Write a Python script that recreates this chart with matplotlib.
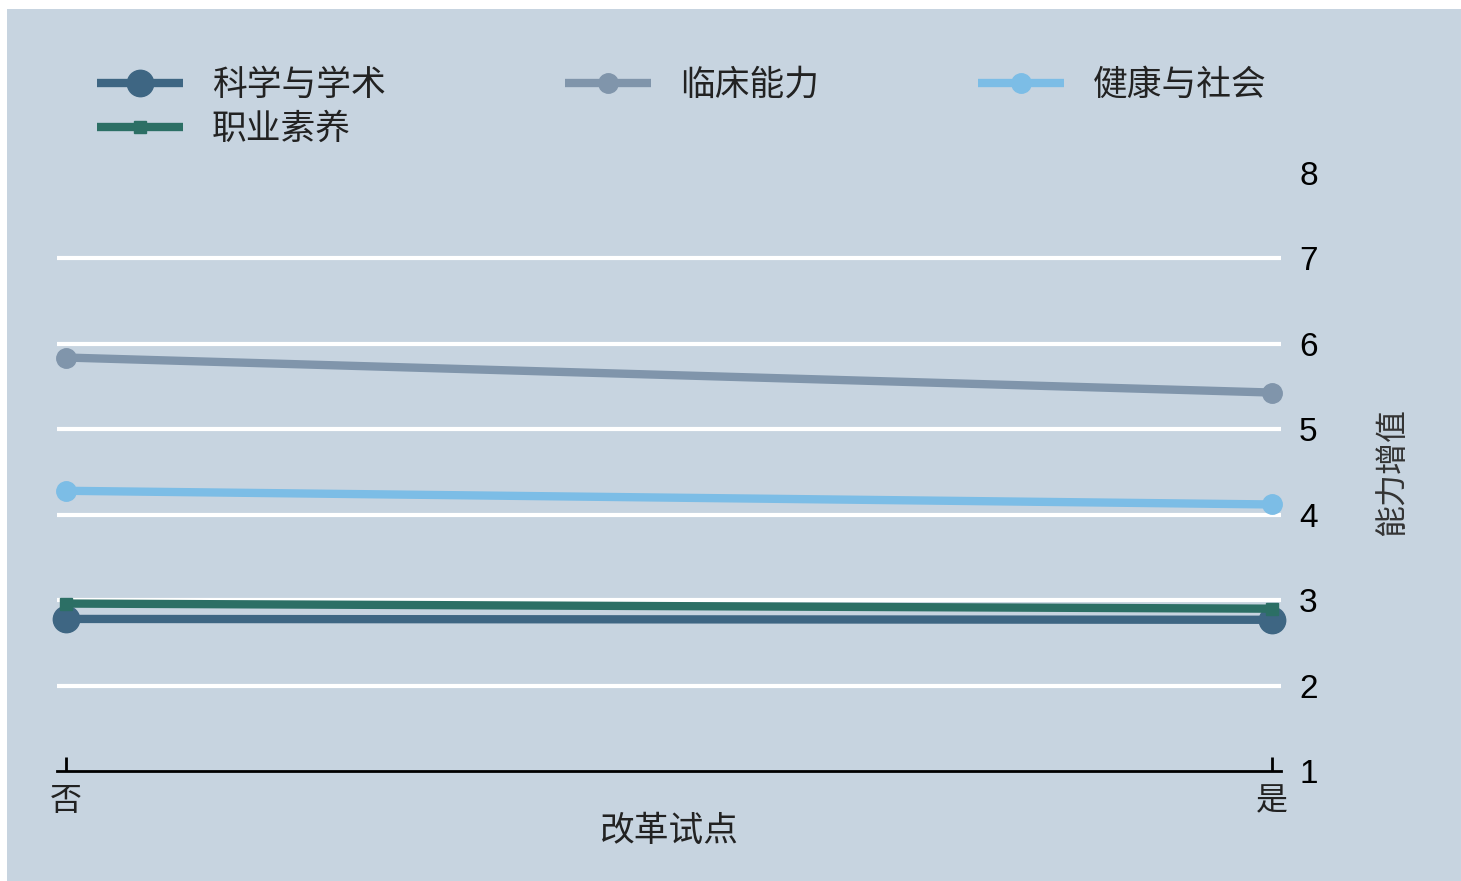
import matplotlib
matplotlib.use("Agg")
import matplotlib.pyplot as plt
from matplotlib.patches import Rectangle
from matplotlib.lines import Line2D

plt.rcParams['font.family'] = ['Noto Sans CJK SC', 'DejaVu Sans']

# Data
groups = ["否", "是"]
series_names = ["科学与学术", "临床能力", "健康与社会", "职业素养"]
sci_academic = [2.78, 2.77]
clinical = [5.84, 5.43]
health_society = [4.28, 4.12]
professionalism = [2.96, 2.90]
y_ticks = [1, 2, 3, 4, 5, 6, 7, 8]

values = [sci_academic, clinical, health_society, professionalism]
colors = ["#3e6683", "#8095ab", "#7cbde6", "#2c6f65"]
markers = ["o", "o", "o", "s"]
msizes = [19, 14, 14, 9]

W, H = 1461, 881
fig = plt.figure(figsize=(W / 100, H / 100), dpi=100, facecolor="white")
bg = "#c7d4e0"
fig.add_artist(Rectangle((7 / W, 0), 1 - 7 / W, 1 - 9 / H,
                         transform=fig.transFigure, facecolor=bg,
                         edgecolor="none", zorder=-10))

left, right = 57 / W, 1281 / W
bottom, top = 1 - 771 / H, 1 - 173 / H
ax = fig.add_axes([left, bottom, right - left, top - bottom])
ax.patch.set_alpha(0)

x = [0, 1]
handles = []
for name, vals, c, m, ms in zip(series_names, values, colors, markers, msizes):
    ax.plot(x, vals, color=c, lw=6, marker=m, ms=ms, mec=c, mfc=c,
            solid_capstyle="butt", zorder=3, clip_on=False)
    handles.append(Line2D([], [], color=c, lw=6, marker=m, ms=ms, mec=c,
                          mfc=c, solid_capstyle="butt"))

ax.set_xlim(-0.0075, 1.0075)
ax.set_ylim(1, 8)
ax.set_xticks(x)
ax.set_xticklabels(groups, fontsize=23, color="#222222")
ax.set_yticks(y_ticks)
ax.set_yticklabels([str(v) for v in y_ticks], fontsize=24,
                   family=["Liberation Sans", "DejaVu Sans"])
ax.yaxis.tick_right()
ax.yaxis.set_label_position("right")
ax.tick_params(axis="y", length=0, pad=13)
ax.tick_params(axis="x", direction="in", length=10, width=2, color="black", pad=10)

for v in y_ticks[1:-1]:
    ax.axhline(v, color="white", lw=3, zorder=1)

for s in ["top", "left", "right"]:
    ax.spines[s].set_visible(False)
ax.spines["bottom"].set_linewidth(2)
ax.spines["bottom"].set_color("black")

ax.set_xlabel("改革试点", fontsize=25, color="#222222", labelpad=-2)
ax.set_ylabel("能力增值", fontsize=23, color="#333333", labelpad=42)

# Legend laid out in rows: three entries on the first row, one on the second
legend_cols = [([0, 3], 97), ([1], 565), ([2], 978)]
for idx, xpix in legend_cols:
    leg = fig.legend([handles[i] for i in idx], [series_names[i] for i in idx],
                     loc="upper left", bbox_to_anchor=(xpix / W, 1 - 68 / H),
                     frameon=False, fontsize=25, borderpad=0, borderaxespad=0,
                     handlelength=2.48, handletextpad=0.83, labelspacing=0.25,
                     labelcolor="#222222")

fig.savefig("out.png", dpi=100, facecolor="white")
